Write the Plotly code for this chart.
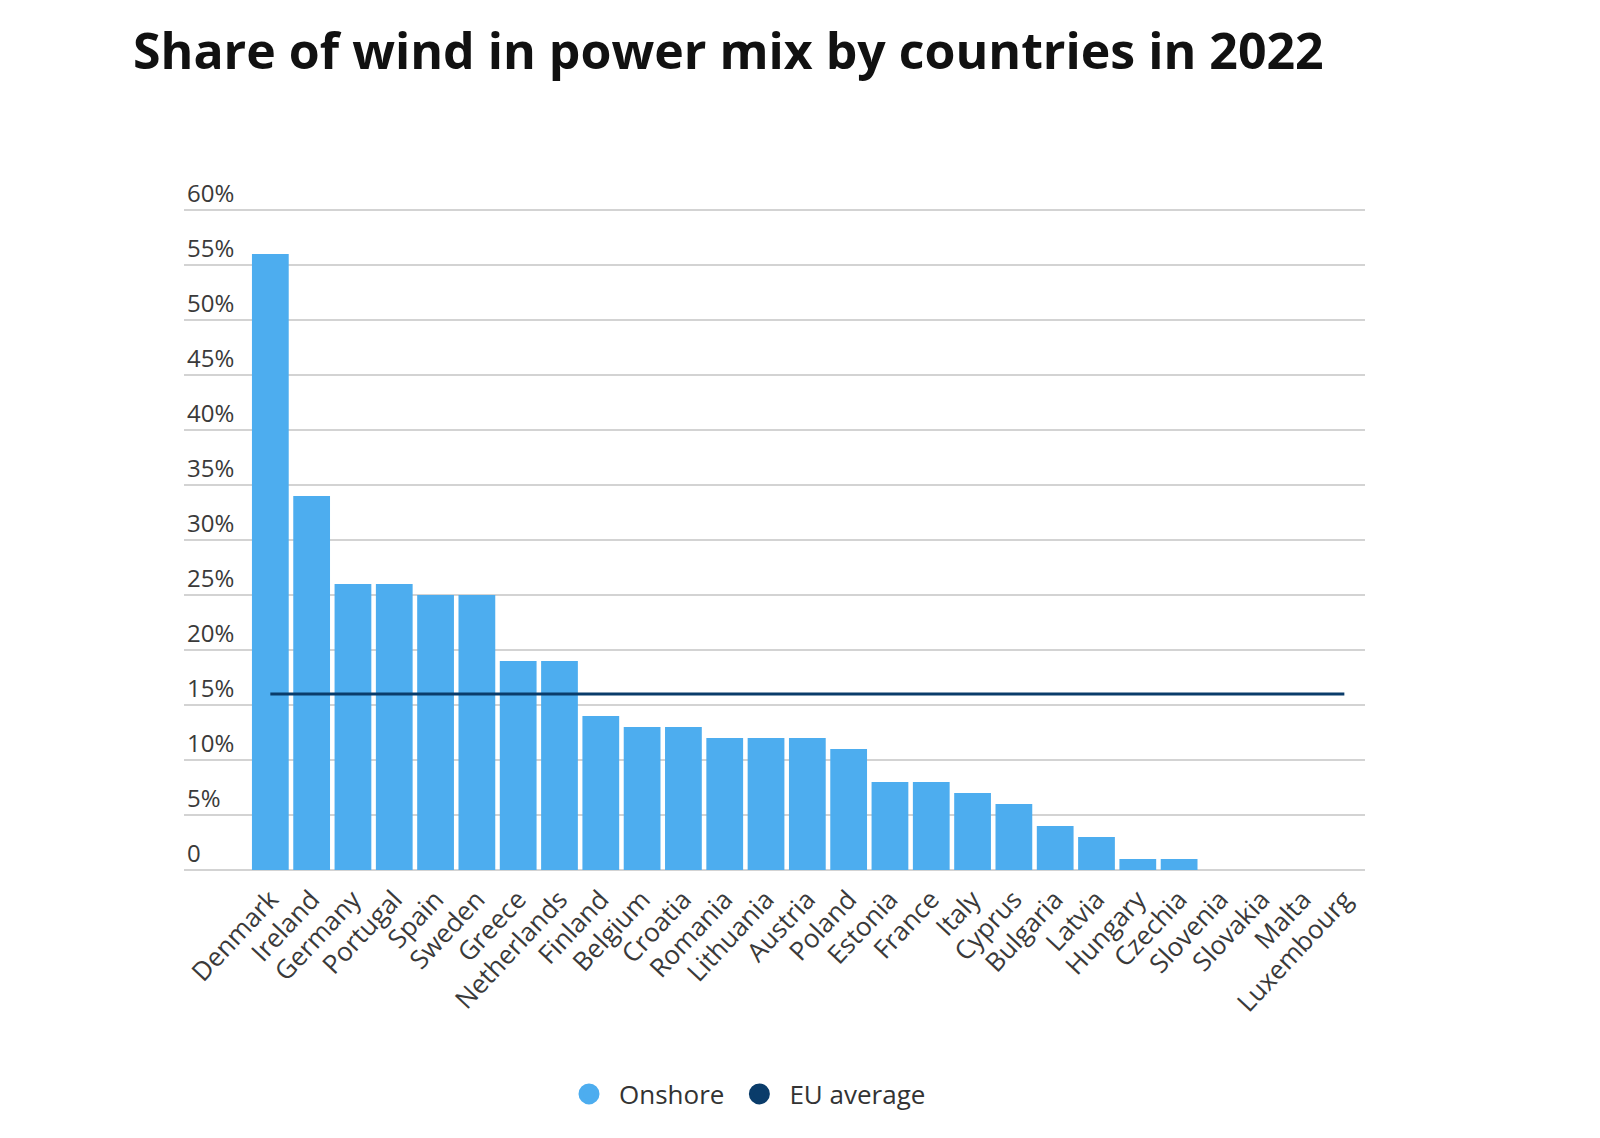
import plotly.graph_objects as go

countries = ["Denmark", "Ireland", "Germany", "Portugal", "Spain", "Sweden", "Greece",
             "Netherlands", "Finland", "Belgium", "Croatia", "Romania", "Lithuania",
             "Austria", "Poland", "Estonia", "France", "Italy", "Cyprus", "Bulgaria",
             "Latvia", "Hungary", "Czechia", "Slovenia", "Slovakia", "Malta", "Luxembourg"]
onshore = [56, 34, 26, 26, 25, 25, 19, 19, 14, 13, 13, 12, 12, 12, 11, 8, 8, 7, 6, 4, 3,
           1, 1, 0, 0, 0, 0]
eu_average = 16
y_tick_values = [0, 5, 10, 15, 20, 25, 30, 35, 40, 45, 50, 55, 60]
y_tick_labels = ["0", "5%", "10%", "15%", "20%", "25%", "30%", "35%", "40%", "45%",
                 "50%", "55%", "60%"]

BAR_COLOR = "#4DADEF"
LINE_COLOR = "#0A3C6A"
GRID = "#D3D3D3"
FONT = "Open Sans"

# the page body has an 8px margin, so the figure is 8px smaller on each axis
W, H = 1592, 1130

fig = go.Figure()
fig.add_trace(go.Bar(x=countries, y=onshore, marker_color=BAR_COLOR,
                     marker_line_width=0, showlegend=False, name="Onshore"))
fig.add_trace(go.Scatter(x=[countries[0], countries[-1]], y=[eu_average, eu_average],
                         mode="lines", line=dict(color=LINE_COLOR, width=3),
                         showlegend=False, name="EU average"))
# legend entries (circles)
fig.add_trace(go.Scatter(x=[None], y=[None], mode="markers", name="Onshore",
                         marker=dict(symbol="circle", size=16, color=BAR_COLOR,
                                     line=dict(color=BAR_COLOR, width=5))))
fig.add_trace(go.Scatter(x=[None], y=[None], mode="markers", name="EU average",
                         marker=dict(symbol="circle", size=16, color=LINE_COLOR,
                                     line=dict(color=LINE_COLOR, width=5))))

fig.update_layout(
    width=W, height=H,
    paper_bgcolor="white", plot_bgcolor="white",
    margin=dict(l=176, r=235, t=147, b=268),
    title=dict(text="Share of wind in power mix by countries in 2022",
               x=125 / W, xanchor="left", y=1 - 43 / H, yanchor="middle",
               font=dict(family=FONT, size=50, color="#111111", weight=700)),
    bargap=0.11,
    font=dict(family=FONT, color="#3a3a3a"),
    legend=dict(orientation="h", xref="container", yref="container",
                x=737 / W, xanchor="center", y=1 - 1086 / H, yanchor="middle",
                font=dict(family=FONT, size=26, color="#333333"),
                itemwidth=50, traceorder="normal"),
    xaxis=dict(type="category", range=[-2.09, 26.5], showgrid=False, zeroline=False,
               showline=False, ticks="", tickangle=-47, ticklabelstandoff=8,
               tickfont=dict(family=FONT, size=26, color="#3a3a3a")),
    yaxis=dict(range=[0, 65], tickvals=y_tick_values, ticktext=y_tick_labels,
               showgrid=True, gridcolor=GRID, gridwidth=2,
               zeroline=True, zerolinecolor=GRID, zerolinewidth=2,
               ticklabelposition="inside top", ticks="",
               tickfont=dict(family=FONT, size=24, color="#3a3a3a")),
)

fig.write_html("out.html")
